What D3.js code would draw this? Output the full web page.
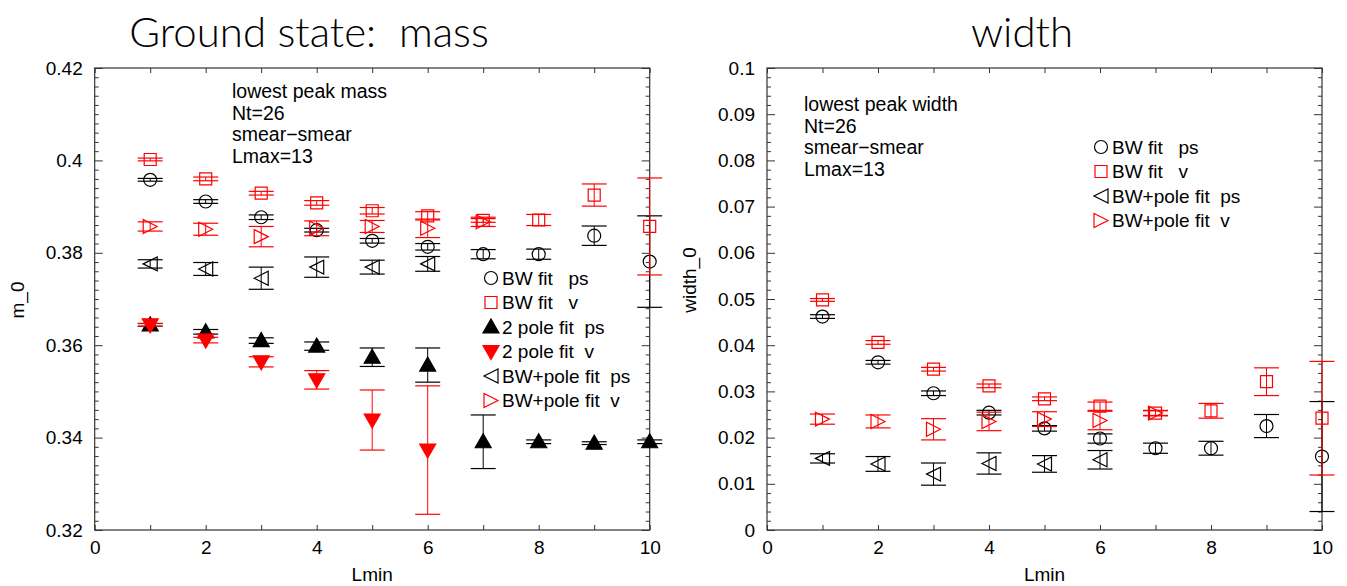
<!DOCTYPE html>
<html>
<head>
<meta charset="utf-8">
<script src="https://cdn.jsdelivr.net/npm/d3@7"></script>
<style>
  body { margin: 0; background: #fff; }
  svg text { font-family: "Liberation Sans", Arial, sans-serif; }
  .title { font-family: Lato, "Open Sans", sans-serif; font-weight: 300; }
</style>
</head>
<body>
<svg id="chart" width="1347" height="586"></svg>
<script>
const lmin = [1, 2, 3, 4, 5, 6, 7, 8, 9, 10];

// left panel: m_0
const massBWps      = [0.3958, 0.3911, 0.3877, 0.3849, 0.3826, 0.3813, 0.3797, 0.3797, 0.3837, 0.3781];
const massBWpsErr   = [0.0003, 0.0004, 0.0005, 0.0004, 0.0005, 0.0007, 0.0010, 0.0011, 0.0021, 0.0099];
const massBWv       = [0.4002, 0.3960, 0.3929, 0.3908, 0.3891, 0.3880, 0.3870, 0.3871, 0.3925, 0.3857];
const massBWvErr    = [0.0003, 0.0004, 0.0004, 0.0005, 0.0007, 0.0009, 0.0004, 0.0012, 0.0024, 0.0105];
const mass2Pps      = [0.3644, 0.3629, 0.3610, 0.3598, 0.3574, 0.3557, 0.3391, 0.3391, 0.3388, 0.3391];
const mass2PpsErr   = [0.0003, 0.0005, 0.0006, 0.0009, 0.0020, 0.0037, 0.0058, 0.0004, 0.0003, 0.0004];
const mass2Pv       = [0.3644, 0.3611, 0.3564, 0.3525, 0.3438, 0.3373, null, null, null, null];
const mass2PvErr    = [0.0003, 0.0006, 0.0011, 0.0020, 0.0065, 0.0139, null, null, null, null];
const massBWPps     = [0.3776, 0.3765, 0.3745, 0.3769, 0.3769, 0.3776, null, null, null, null];
const massBWPpsErr  = [0.0009, 0.0014, 0.0024, 0.0022, 0.0015, 0.0016, null, null, null, null];
const massBWPv      = [0.3857, 0.3851, 0.3835, 0.3853, 0.3857, 0.3853, 0.3867, null, null, null];
const massBWPvErr   = [0.0010, 0.0013, 0.0022, 0.0016, 0.0013, 0.0020, 0.0010, null, null, null];

// right panel: width_0
const widthBWps     = [0.0462, 0.0363, 0.0296, 0.0254, 0.0220, 0.0198, 0.0177, 0.0177, 0.0225, 0.0159];
const widthBWpsErr  = [0.0004, 0.0004, 0.0005, 0.0005, 0.0006, 0.0010, 0.0011, 0.0015, 0.0025, 0.0119];
const widthBWv      = [0.0498, 0.0406, 0.0348, 0.0312, 0.0284, 0.0268, 0.0253, 0.0258, 0.0321, 0.0242];
const widthBWvErr   = [0.0003, 0.0004, 0.0004, 0.0004, 0.0004, 0.0009, 0.0006, 0.0016, 0.0030, 0.0123];
const widthBWPps    = [0.0155, 0.0143, 0.0121, 0.0144, 0.0143, 0.0152, null, null, null, null];
const widthBWPpsErr = [0.0010, 0.0016, 0.0024, 0.0023, 0.0018, 0.0020, null, null, null, null];
const widthBWPv     = [0.0240, 0.0235, 0.0218, 0.0235, 0.0240, 0.0237, 0.0253, null, null, null];
const widthBWPvErr  = [0.0011, 0.0014, 0.0023, 0.0020, 0.0016, 0.0020, 0.0005, null, null, null];

const lminTicks  = [0, 2, 4, 6, 8, 10];
const massTicks  = [0.32, 0.34, 0.36, 0.38, 0.40, 0.42];
const widthTicks = [0, 0.01, 0.02, 0.03, 0.04, 0.05, 0.06, 0.07, 0.08, 0.09, 0.1];

const massNotes  = ["lowest peak mass", "Nt=26", "smear\u2212smear", "Lmax=13"];
const widthNotes = ["lowest peak width", "Nt=26", "smear\u2212smear", "Lmax=13"];

const svg = d3.select("#chart");

// marker outlines centred on 0,0
const shapes = {
  square: "M-6,-6H6V6H-6Z",
  up:     "M0,-8L8,6H-8Z",
  down:   "M0,8L8,-6H-8Z",
  left:   "M-7,0L7,-7V7Z",
  right:  "M7,0L-7,-7V7Z"
};

function drawMarker(g, type, color, x, y) {
  const filled = type === "up" || type === "down";
  if (type === "circle") {
    g.append("circle").attr("cx", x).attr("cy", y).attr("r", 6.5)
      .attr("fill", "none").attr("stroke", color).attr("stroke-width", 1.2);
  } else {
    g.append("path").attr("d", shapes[type])
      .attr("transform", `translate(${x},${y})`)
      .attr("fill", filled ? color : "none")
      .attr("stroke", color).attr("stroke-width", 1.2);
  }
}

function panel(opt) {
  const x = d3.scaleLinear().domain([0, 10]).range(opt.xr);
  const y = d3.scaleLinear().domain(opt.yd).range([530, 68]);
  const g = svg.append("g");
  const fmt = d3.format("~g");

  // frame
  g.append("rect")
    .attr("x", opt.xr[0]).attr("y", 68)
    .attr("width", opt.xr[1] - opt.xr[0]).attr("height", 462)
    .attr("fill", "none").attr("stroke", "#333").attr("stroke-width", 1.2);

  const xt = d3.range(0, 11, 1);
  g.append("g").attr("transform", "translate(0,530)")
    .call(d3.axisBottom(x).tickValues(xt).tickSize(-5).tickPadding(11)
      .tickFormat(d => lminTicks.includes(d) ? d : ""))
    .call(a => a.select(".domain").remove())
    .call(a => a.selectAll("text").attr("font-size", 19).attr("fill", "#000")
      .attr("font-family", "Liberation Sans, Arial, sans-serif"));
  g.append("g").attr("transform", "translate(0,68)")
    .call(d3.axisTop(x).tickValues(xt).tickSize(-5).tickFormat(""))
    .call(a => a.select(".domain").remove());

  const minor = d3.range(opt.yd[0], opt.yd[1] + 1e-9, 0.002).map(v => +v.toFixed(4));
  const isMajor = v => opt.yTicks.some(t => Math.abs(t - v) < 1e-7);
  [[d3.axisLeft, opt.xr[0]], [d3.axisRight, opt.xr[1]]].forEach(([ax, px]) => {
    g.append("g").attr("transform", `translate(${px},0)`)
      .call(ax(y).tickValues(minor.filter(v => !isMajor(v))).tickSize(-4).tickFormat(""))
      .call(a => a.select(".domain").remove());
    g.append("g").attr("transform", `translate(${px},0)`)
      .call(ax(y).tickValues(opt.yTicks).tickSize(-8).tickPadding(12)
        .tickFormat(ax === d3.axisLeft ? fmt : ""))
      .call(a => a.select(".domain").remove())
      .call(a => a.selectAll("text").attr("font-size", 19).attr("fill", "#000")
        .attr("font-family", "Liberation Sans, Arial, sans-serif"));
  });
  g.selectAll(".tick line").attr("stroke", "#333");

  // axis labels
  g.append("text").attr("x", (opt.xr[0] + opt.xr[1]) / 2).attr("y", 581)
    .attr("text-anchor", "middle").attr("font-size", 19).text("Lmin");
  g.append("text").attr("transform", `translate(${opt.ylx},${opt.yly}) rotate(-90)`)
    .attr("text-anchor", "middle").attr("font-size", 19).text(opt.ylabel);

  // title
  g.append("text").attr("class", "title").attr("x", opt.titleX).attr("y", 47)
    .attr("text-anchor", "middle").attr("font-size", 42)
    .style("white-space", "pre").text(opt.title);

  // notes
  opt.notes.forEach((t, i) => {
    g.append("text").attr("x", opt.noteX).attr("y", opt.noteY + i * 21.5)
      .attr("font-size", 19.5).text(t);
  });

  // series
  opt.series.forEach(s => {
    const sg = g.append("g");
    lmin.forEach((l, i) => {
      const v = s.v[i], e = s.e[i];
      if (v == null) return;
      const px = x(l), lo = y(v - e), hi = y(v + e);
      sg.append("line").attr("x1", px).attr("x2", px).attr("y1", lo).attr("y2", hi)
        .attr("stroke", s.color);
      [lo, hi].forEach(yy => sg.append("line")
        .attr("x1", px - 12.5).attr("x2", px + 12.5).attr("y1", yy).attr("y2", yy)
        .attr("stroke", s.color).attr("stroke-width", 1.2));
      drawMarker(sg, s.shape, s.color, px, y(v));
    });
  });

  // legend
  opt.series.forEach((s, i) => {
    const ly = opt.legY + i * 24.5;
    drawMarker(g, s.shape, s.color, opt.legX, ly);
    g.append("text").attr("x", opt.legX + 11).attr("y", ly + 6.5)
      .attr("font-size", 19).style("white-space", "pre").text(s.label);
  });
}

const red = "#ff0000", black = "#000000";

panel({
  xr: [94.7, 649.7], yd: [0.32, 0.42], yTicks: massTicks,
  ylabel: "m_0", ylx: 24, yly: 300, title: "Ground state:  mass", titleX: 309,
  notes: massNotes, noteX: 232, noteY: 98, legX: 491, legY: 278,
  series: [
    { v: massBWps,  e: massBWpsErr,  color: black, shape: "circle", label: "BW fit   ps" },
    { v: massBWv,   e: massBWvErr,   color: red,   shape: "square", label: "BW fit   v" },
    { v: mass2Pps,  e: mass2PpsErr,  color: black, shape: "up",     label: "2 pole fit  ps" },
    { v: mass2Pv,   e: mass2PvErr,   color: red,   shape: "down",   label: "2 pole fit  v" },
    { v: massBWPps, e: massBWPpsErr, color: black, shape: "left",   label: "BW+pole fit  ps" },
    { v: massBWPv,  e: massBWPvErr,  color: red,   shape: "right",  label: "BW+pole fit  v" }
  ]
});

panel({
  xr: [767, 1322], yd: [0, 0.1], yTicks: widthTicks,
  ylabel: "width_0", ylx: 696, yly: 280, title: "width", titleX: 1022,
  notes: widthNotes, noteX: 804, noteY: 111, legX: 1101, legY: 147,
  series: [
    { v: widthBWps,  e: widthBWpsErr,  color: black, shape: "circle", label: "BW fit   ps" },
    { v: widthBWv,   e: widthBWvErr,   color: red,   shape: "square", label: "BW fit   v" },
    { v: widthBWPps, e: widthBWPpsErr, color: black, shape: "left",   label: "BW+pole fit  ps" },
    { v: widthBWPv,  e: widthBWPvErr,  color: red,   shape: "right",  label: "BW+pole fit  v" }
  ]
});
</script>
</body>
</html>
